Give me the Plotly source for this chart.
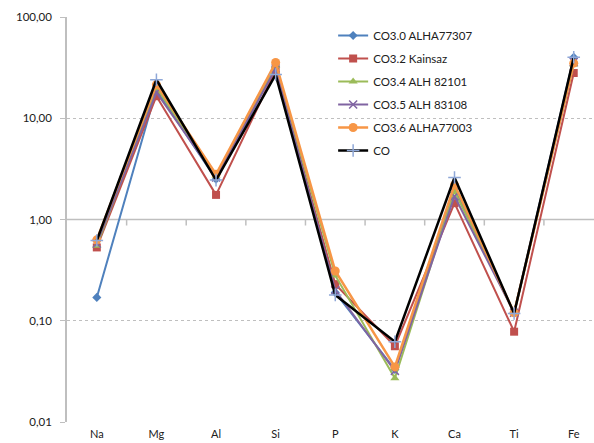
import plotly.graph_objects as go

elements = ["Na", "Mg", "Al", "Si", "P", "K", "Ca", "Ti", "Fe"]

co30_alha77307 = [0.17, 19.0, 2.5, 32.0, 0.19, 0.033, 2.0, 0.12, 40.0]
co32_kainsaz = [0.53, 16.5, 1.75, 30.0, 0.23, 0.056, 1.45, 0.078, 28.0]
co34_alh82101 = [0.55, 20.0, 2.7, 33.0, 0.28, 0.027, 1.9, 0.12, 34.0]
co35_alh83108 = [0.58, 18.0, 2.6, 31.0, 0.20, 0.032, 1.7, 0.12, 36.0]
co36_alha77003 = [0.63, 21.5, 2.8, 35.5, 0.31, 0.035, 2.2, 0.12, 35.0]
co_mean = [0.62, 24.0, 2.45, 27.0, 0.18, 0.062, 2.6, 0.118, 40.0]

series = [
    ("CO3.0 ALHA77307", co30_alha77307, "#4F81BD", "diamond", 7, 2),
    ("CO3.2 Kainsaz", co32_kainsaz, "#C0504D", "square", 8, 2),
    ("CO3.4 ALH 82101", co34_alh82101, "#9BBB59", "triangle-up", 8, 2),
    ("CO3.5 ALH 83108", co35_alh83108, "#8064A2", "x-thin", 8, 2),
    ("CO3.6 ALHA77003", co36_alha77003, "#F79646", "circle", 9, 2.5),
    ("CO", co_mean, "#000000", "cross-thin", 9, 2.5),
]

ytick_vals = [0.01, 0.1, 1, 10, 100]
ytick_text = ["0,01", "0,10", "1,00", "10,00", "100,00"]

fig = go.Figure()
for i, (name, vals, color, sym, msize, lw) in enumerate(series):
    marker = dict(symbol=sym, size=msize, color=color)
    if sym in ("x-thin", "cross-thin"):
        mc = "#8FA8D8" if name == "CO" else color
        marker = dict(symbol=sym, size=msize, color=mc, line=dict(color=mc, width=1.5))
    fig.add_trace(go.Scatter(
        x=elements, y=vals, name=name, mode="lines+markers",
        line=dict(color=color, width=lw), marker=marker,
        legendgroup="g%d" % i,
    ))

shapes = [dict(type="line", xref="paper", yref="y", x0=0, x1=1, y0=1, y1=1,
               line=dict(color="#BFBFBF", width=1.5), layer="below")]
for k in range(len(elements) - 1):
    shapes.append(dict(type="line", xref="x", yref="paper", x0=k + 0.5, x1=k + 0.5,
                       y0=0.5, y1=0.5 - 6 / 405, line=dict(color="#BFBFBF", width=1.5),
                       layer="below"))

fig.update_layout(
    width=594, height=443,
    margin=dict(l=67, r=0, t=17, b=21),
    paper_bgcolor="white", plot_bgcolor="white",
    font=dict(family="Lato, Open Sans, sans-serif", size=11, color="#404040"),
    showlegend=True,
    legend=dict(x=0.505, y=0.99, xanchor="left", yanchor="top",
                bgcolor="rgba(255,255,255,0)", font=dict(size=11.5, color="#202020"),
                tracegroupgap=4, itemwidth=30),
    shapes=shapes,
)
fig.update_xaxes(
    type="category", range=[-0.5, 8.34], showgrid=False, showline=False,
    ticks="", zeroline=False, automargin=False, ticklabelstandoff=4,
    tickfont=dict(size=11, color="#202020"),
)
fig.update_yaxes(
    type="log", range=[-2, 2], tickvals=ytick_vals, ticktext=ytick_text,
    showgrid=True, gridcolor="#BFBFBF", griddash="dot", gridwidth=1,
    showline=True, linecolor="#BFBFBF", linewidth=1.5, automargin=False,
    ticks="outside", ticklen=5, tickcolor="#BFBFBF",
    ticklabelstandoff=6, tickfont=dict(size=11.5, color="#202020"),
)

fig.write_html("out.html", config={"displayModeBar": False},
               post_script="document.body.style.margin='0';document.body.style.overflow='hidden';")
